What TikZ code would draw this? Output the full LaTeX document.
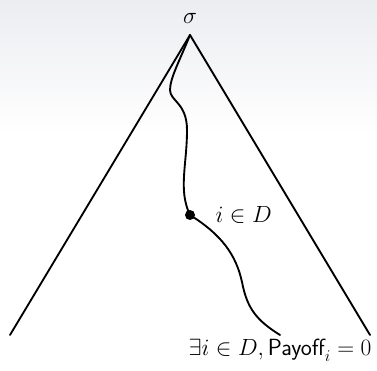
\RequirePackage{fix-cm}
\documentclass[tikz,border=0pt]{standalone}
\usepackage{fontspec}
\usepackage{tikz}
\usetikzlibrary{positioning, calc}
\definecolor{BgTop}{HTML}{ECEDF1}
\tikzset{
  edge/.style={line width=1.6pt, line cap=round, line join=round},
  pathway/.style={line width=1.6pt, line cap=round},
  hit/.style={circle, fill=black, inner sep=0pt, minimum size=0.3cm},
  lbl/.style={font=\fontsize{20}{24}\selectfont, inner sep=3pt}
}

\begin{document}
\begin{tikzpicture}[x=0.03cm, y=0.03cm]
  \useasboundingbox (0,0) rectangle (377,370);
  \fill[white] (0,0) rectangle (377,370);
  \fill[top color=BgTop, bottom color=white] (0,235) rectangle (377,370);

  \coordinate (apex) at (190,335);
  \coordinate (left) at (10,35);
  \coordinate (right) at (370,35);
  \coordinate (tip) at (280,35);
  \node[hit] (dot) at (190,155) {};

  \node[lbl, above=0.22cm of apex] (sigma) {$\sigma$};
  \node[lbl, right=0.5cm of dot] (indom) {$i \in D$};
  \node[lbl, below=0.02cm of tip] (payoff) {$\exists i \in D, \textsf{Payoff}_{i} = 0$};

  \draw[edge] (left) -- (apex) -- (right);
  \draw[pathway] (apex) .. controls (180,310) and (170,292) .. (170,280)
    .. controls (170,269) and (187,267) .. (187,240)
    .. controls (187,205) and (178,180) .. (dot.center);
  \draw[pathway] (dot.center) .. controls (222,135) and (236,115) .. (242,88)
    .. controls (247,62) and (256,50) .. (tip);
\end{tikzpicture}
\end{document}
